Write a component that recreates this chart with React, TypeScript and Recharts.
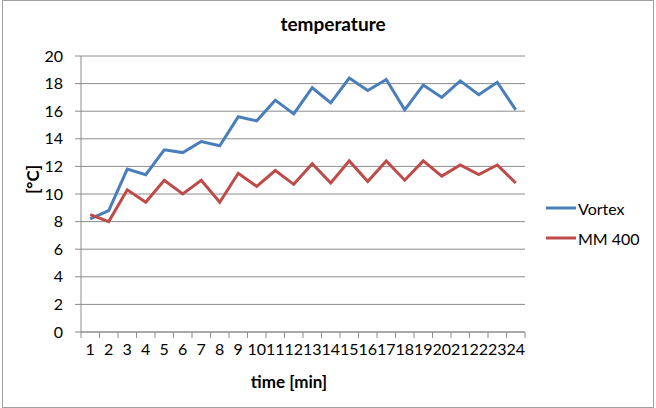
import React from 'react';
import {
  CartesianGrid,
  Legend,
  Line,
  LineChart,
  XAxis,
  YAxis,
} from 'recharts';

const minutes = [
  '1', '2', '3', '4', '5', '6', '7', '8', '9', '10', '11', '12',
  '13', '14', '15', '16', '17', '18', '19', '20', '21', '22', '23', '24',
];
const vortex = [
  8.2, 8.8, 11.8, 11.4, 13.2, 13.0, 13.8, 13.5, 15.6, 15.3, 16.8, 15.8,
  17.7, 16.6, 18.4, 17.5, 18.3, 16.1, 17.9, 17.0, 18.2, 17.2, 18.1, 16.1,
];
const mm400 = [
  8.5, 8.0, 10.3, 9.4, 11.0, 10.0, 11.0, 9.4, 11.5, 10.55, 11.7, 10.7,
  12.2, 10.8, 12.4, 10.9, 12.4, 11.0, 12.4, 11.3, 12.1, 11.4, 12.1, 10.8,
];
const seriesNames = ['Vortex', 'MM 400'];
const yTicks = [0, 2, 4, 6, 8, 10, 12, 14, 16, 18, 20];

const data = minutes.map((m, i) => ({ minute: m, Vortex: vortex[i], 'MM 400': mm400[i] }));

const FONT = 'Lato, "Open Sans", sans-serif';
const AXIS = '#8c8c8c';
const HALF_STEP = 9.25; // half a category width, for Excel-style boundary ticks

// category label at the centre, tick mark on the category boundary
function XTick(props: any) {
  const { x, y, payload, index } = props;
  const axisY = y - 12;
  return (
    <g>
      <line x1={x - HALF_STEP} x2={x - HALF_STEP} y1={axisY} y2={axisY + 6} stroke={AXIS} />
      {index === minutes.length - 1 && (
        <line x1={x + HALF_STEP} x2={x + HALF_STEP} y1={axisY} y2={axisY + 6} stroke={AXIS} />
      )}
      <text x={x} y={y} dy="0.71em" textAnchor="middle" fill="#000" fontSize={16} fontFamily={FONT}>
        {payload.value}
      </text>
    </g>
  );
}

function renderLegend(props: any) {
  const payload = [...(props.payload ?? [])].sort(
    (a: any, b: any) => seriesNames.indexOf(a.value) - seriesNames.indexOf(b.value),
  );
  return (
    <div style={{ fontFamily: FONT, fontSize: 16, color: '#000' }}>
      {payload.map((e: any) => (
        <div key={e.value} style={{ display: 'flex', alignItems: 'center', height: 30 }}>
          <svg width={32} height={6} style={{ display: 'block' }}>
            <line x1={1} x2={31} y1={3} y2={3} stroke={e.color} strokeWidth={3} />
          </svg>
          <span style={{ marginLeft: 1 }}>{e.value}</span>
        </div>
      ))}
    </div>
  );
}

export default function App() {
  return (
    <div style={{ position: 'absolute', left: 0, top: 0, width: 656, height: 408, background: '#fff' }}>
      <div
        style={{
          position: 'absolute',
          left: 2,
          top: 0,
          width: 652,
          height: 408,
          boxSizing: 'border-box',
          border: '1px solid #a0a0a0',
        }}
      />
      <div
        style={{
          position: 'absolute',
          left: 0,
          width: 666,
          top: 12,
          textAlign: 'center',
          fontFamily: FONT,
          fontWeight: 700,
          fontSize: 19,
          color: '#000',
        }}
      >
        temperature
      </div>
      <div style={{ position: 'absolute', left: 0, top: 0 }}>
        <LineChart
          width={656}
          height={408}
          data={data}
          margin={{ top: 56, right: 131, bottom: 0, left: 0 }}
        >
          <CartesianGrid vertical={false} stroke={AXIS} strokeWidth={1} />
          <XAxis
            dataKey="minute"
            height={76}
            interval={0}
            padding={{ left: HALF_STEP, right: HALF_STEP }}
            stroke={AXIS}
            tickLine={false}
            tickSize={6}
            tickMargin={6}
            tick={<XTick />}
            label={{
              value: 'time [min]',
              position: 'insideBottom',
              offset: 20,
              dx: -14,
              fill: '#000',
              fontSize: 17,
              fontWeight: 700,
              fontFamily: FONT,
            }}
          />
          <YAxis
            width={81}
            domain={[0, 20]}
            ticks={yTicks}
            interval={0}
            stroke={AXIS}
            tickSize={6}
            tickMargin={12}
            tick={{ fill: '#000', fontSize: 16, fontFamily: FONT }}
            label={{
              value: '[°C]',
              angle: -90,
              position: 'insideLeft',
              offset: 33,
              fill: '#000',
              fontSize: 17,
              fontWeight: 700,
              fontFamily: FONT,
            }}
          />
          <Legend
            layout="horizontal"
            verticalAlign="middle"
            align="center"
            content={renderLegend}
            wrapperStyle={{ left: 545, top: 193, width: 105 }}
          />
          <Line
            type="linear"
            dataKey="Vortex"
            stroke="#4a7ebb"
            strokeWidth={3}
            dot={false}
            isAnimationActive={false}
          />
          <Line
            type="linear"
            dataKey="MM 400"
            stroke="#be4b48"
            strokeWidth={3}
            dot={false}
            isAnimationActive={false}
          />
        </LineChart>
      </div>
    </div>
  );
}
